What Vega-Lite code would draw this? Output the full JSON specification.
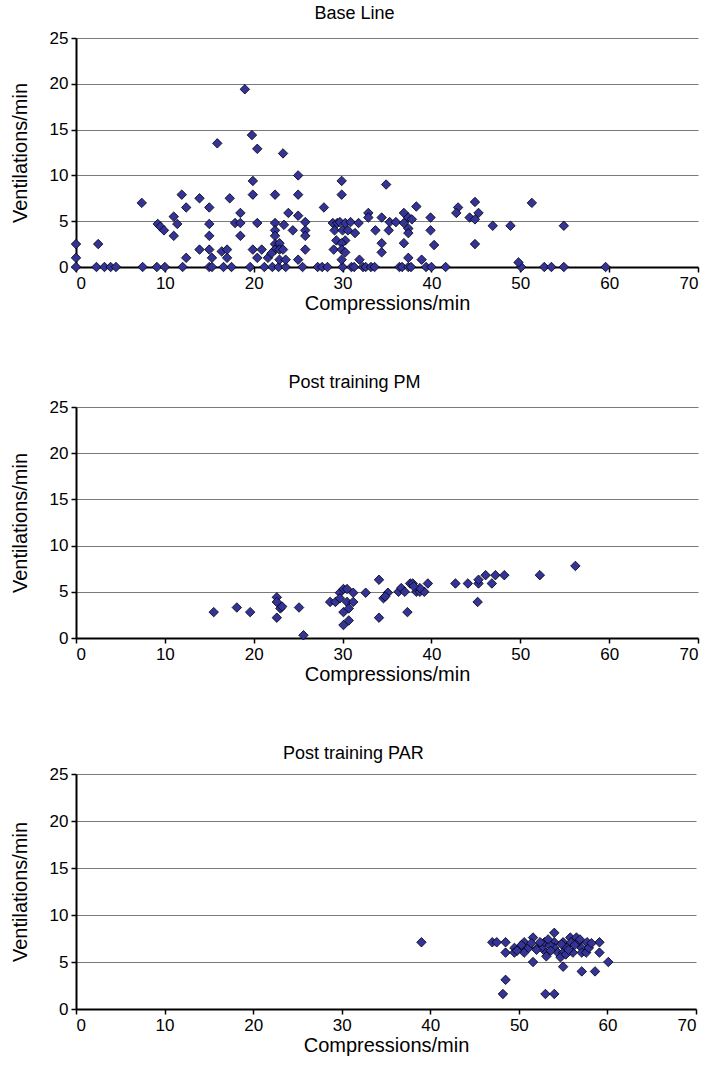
{
  "$schema": "https://vega.github.io/schema/vega-lite/v6.json",
  "background": "white",
  "padding": {"left": 10, "top": 5, "right": 5, "bottom": 4},
  "spacing": 61,
  "config": {
    "font": "Liberation Sans",
    "view": {"stroke": null},
    "title": {"fontSize": 18, "fontWeight": "normal", "color": "#000", "font": "Liberation Sans", "offset": 6, "frame": "bounds", "anchor": "middle"},
    "axis": {"labelFont": "Liberation Sans", "titleFont": "Liberation Sans", "labelFontSize": 17, "titleFontSize": 20, "titleFontWeight": "normal", "labelColor": "#000", "titleColor": "#000", "domainColor": "#000", "domainWidth": 2, "tickColor": "#000", "tickWidth": 1.5, "tickSize": 5, "gridColor": "#7a7a7a", "gridWidth": 1, "gridOpacity": 1}
  },
  "datasets": {
    "base": [
      {"x":0,"y":0},{"x":2.3,"y":0},{"x":3.2,"y":0},{"x":3.9,"y":0},{"x":4.5,"y":0},{"x":7.5,"y":0},{"x":9.1,"y":0},{"x":10.0,"y":0},{"x":12.0,"y":0},{"x":15.0,"y":0},{"x":15.3,"y":0},{"x":16.6,"y":0},{"x":17.5,"y":0},{"x":19.6,"y":0},{"x":21.2,"y":0},{"x":22.1,"y":0},{"x":22.8,"y":0},{"x":23.6,"y":0},{"x":25.5,"y":0},{"x":27.2,"y":0},{"x":27.7,"y":0},{"x":28.3,"y":0},{"x":30.0,"y":0},{"x":31.0,"y":0},{"x":31.3,"y":0},{"x":32.3,"y":0},{"x":32.6,"y":0},{"x":33.2,"y":0},{"x":33.6,"y":0},{"x":36.4,"y":0},{"x":36.7,"y":0},{"x":37.4,"y":0},{"x":37.7,"y":0},{"x":39.4,"y":0},{"x":40.0,"y":0},{"x":41.6,"y":0},{"x":50.1,"y":0},{"x":52.7,"y":0},{"x":53.5,"y":0},{"x":54.9,"y":0},{"x":59.6,"y":0},
      {"x":0,"y":2.5},{"x":0,"y":1.0},{"x":2.5,"y":2.5},{"x":7.4,"y":7.0},{"x":9.2,"y":4.7},{"x":9.5,"y":4.4},{"x":9.9,"y":4.0},{"x":11.0,"y":5.5},{"x":11.4,"y":4.7},{"x":11.0,"y":3.4},{"x":11.9,"y":7.9},{"x":12.4,"y":6.5},{"x":12.4,"y":1.0},{"x":13.9,"y":7.5},{"x":13.9,"y":1.9},{"x":15.0,"y":6.5},{"x":15.0,"y":4.7},{"x":15.0,"y":3.4},{"x":15.0,"y":1.9},{"x":15.3,"y":1.0},{"x":15.9,"y":13.5},{"x":16.4,"y":1.7},{"x":17.0,"y":1.9},{"x":17.0,"y":1.0},{"x":17.3,"y":7.5},{"x":17.9,"y":4.8},{"x":18.5,"y":5.9},{"x":18.5,"y":4.8},{"x":18.5,"y":3.4},{"x":19.0,"y":19.4},{"x":19.8,"y":14.4},{"x":20.4,"y":12.9},{"x":19.9,"y":9.4},{"x":19.9,"y":7.9},{"x":20.4,"y":4.8},{"x":19.9,"y":1.9},{"x":20.4,"y":1.0},{"x":20.9,"y":1.9},{"x":21.6,"y":1.0},{"x":22.4,"y":7.9},{"x":22.4,"y":4.8},{"x":22.4,"y":4.0},{"x":22.4,"y":3.4},{"x":22.4,"y":2.5},{"x":22.4,"y":1.9},{"x":22.0,"y":1.5},{"x":23.3,"y":12.4},{"x":25.0,"y":10.0},{"x":25.0,"y":7.9},{"x":29.9,"y":9.4},{"x":29.9,"y":7.9},{"x":34.9,"y":9.0},{"x":27.9,"y":6.5},{"x":23.9,"y":5.9},{"x":25.0,"y":5.6},{"x":25.8,"y":4.9},{"x":23.4,"y":4.6},{"x":24.4,"y":4.0},{"x":25.8,"y":4.0},{"x":25.8,"y":3.4},{"x":25.8,"y":1.9},{"x":22.9,"y":2.6},{"x":22.9,"y":1.9},{"x":23.3,"y":1.9},{"x":22.9,"y":0.8},{"x":23.6,"y":0.8},{"x":25.0,"y":0.8},{"x":28.9,"y":4.8},{"x":29.4,"y":4.8},{"x":29.7,"y":4.9},{"x":30.3,"y":4.8},{"x":30.9,"y":4.9},{"x":31.8,"y":4.8},{"x":29.1,"y":4.0},{"x":30.0,"y":4.0},{"x":30.6,"y":4.0},{"x":31.4,"y":3.7},{"x":29.3,"y":2.9},{"x":30.3,"y":2.9},{"x":29.9,"y":2.6},{"x":29.0,"y":1.9},{"x":29.9,"y":1.9},{"x":30.3,"y":1.6},{"x":29.9,"y":0.8},{"x":31.9,"y":0.8},{"x":32.9,"y":5.9},{"x":32.9,"y":5.4},{"x":34.4,"y":5.4},{"x":33.7,"y":4.0},{"x":34.4,"y":2.6},{"x":34.4,"y":1.6},{"x":35.2,"y":4.0},{"x":35.3,"y":4.9},{"x":36.0,"y":4.9},{"x":36.9,"y":5.9},{"x":37.4,"y":5.4},{"x":37.8,"y":5.2},{"x":36.9,"y":4.8},{"x":37.4,"y":4.2},{"x":37.4,"y":3.7},{"x":36.9,"y":2.6},{"x":37.4,"y":1.0},{"x":38.3,"y":6.6},{"x":39.9,"y":5.4},{"x":39.9,"y":4.0},{"x":40.3,"y":2.4},{"x":38.9,"y":0.8},{"x":43.0,"y":6.5},{"x":42.8,"y":5.9},{"x":44.9,"y":7.1},{"x":45.3,"y":5.9},{"x":44.3,"y":5.4},{"x":44.9,"y":5.2},{"x":44.9,"y":2.5},{"x":46.9,"y":4.5},{"x":48.9,"y":4.5},{"x":51.3,"y":7.0},{"x":54.9,"y":4.5},{"x":49.8,"y":0.5}
    ],
    "pm": [
      {"x":15.5,"y":2.8},{"x":18.1,"y":3.3},{"x":19.6,"y":2.8},{"x":22.6,"y":4.4},{"x":22.6,"y":3.9},{"x":23.0,"y":3.2},{"x":22.6,"y":2.2},{"x":23.2,"y":3.4},{"x":25.1,"y":3.3},{"x":25.6,"y":0.3},{"x":28.6,"y":3.9},{"x":29.2,"y":3.9},{"x":29.7,"y":4.9},{"x":30.1,"y":5.3},{"x":30.5,"y":5.3},{"x":31.2,"y":4.9},{"x":29.7,"y":4.3},{"x":30.5,"y":3.9},{"x":31.2,"y":3.9},{"x":30.1,"y":2.8},{"x":30.7,"y":3.2},{"x":30.1,"y":1.4},{"x":30.7,"y":1.9},{"x":32.6,"y":4.9},{"x":34.1,"y":6.3},{"x":34.6,"y":4.3},{"x":34.1,"y":2.2},{"x":35.1,"y":4.9},{"x":34.8,"y":4.5},{"x":36.3,"y":5.0},{"x":36.6,"y":5.4},{"x":37.0,"y":5.0},{"x":37.6,"y":5.9},{"x":37.9,"y":5.9},{"x":38.3,"y":5.0},{"x":38.7,"y":5.0},{"x":39.2,"y":5.0},{"x":38.7,"y":5.4},{"x":38.0,"y":5.6},{"x":39.6,"y":5.9},{"x":37.3,"y":2.8},{"x":42.7,"y":5.9},{"x":44.1,"y":5.9},{"x":45.3,"y":5.9},{"x":45.3,"y":6.3},{"x":45.2,"y":3.9},{"x":46.1,"y":6.8},{"x":46.8,"y":5.9},{"x":47.2,"y":6.8},{"x":48.2,"y":6.8},{"x":52.2,"y":6.8},{"x":56.2,"y":7.8}
    ],
    "par": [
      {"x":39.0,"y":7.1},{"x":47.0,"y":7.1},{"x":47.5,"y":7.1},{"x":48.5,"y":7.1},{"x":48.5,"y":6.0},{"x":48.2,"y":1.6},{"x":48.5,"y":3.1},{"x":49.5,"y":6.5},{"x":49.5,"y":6.0},{"x":50.1,"y":6.5},{"x":50.6,"y":7.1},{"x":50.6,"y":6.0},{"x":51.1,"y":6.5},{"x":51.6,"y":7.6},{"x":51.6,"y":5.0},{"x":52.1,"y":6.5},{"x":52.6,"y":6.5},{"x":52.9,"y":7.1},{"x":53.1,"y":6.0},{"x":53.1,"y":5.6},{"x":53.0,"y":1.6},{"x":54.0,"y":8.1},{"x":54.0,"y":7.1},{"x":54.0,"y":6.5},{"x":54.4,"y":6.0},{"x":54.0,"y":1.6},{"x":55.0,"y":4.5},{"x":55.0,"y":6.0},{"x":55.0,"y":7.1},{"x":55.4,"y":6.5},{"x":55.8,"y":7.6},{"x":55.9,"y":7.1},{"x":56.1,"y":6.0},{"x":56.5,"y":7.6},{"x":56.7,"y":7.1},{"x":57.1,"y":6.5},{"x":57.1,"y":6.0},{"x":57.7,"y":7.1},{"x":57.6,"y":6.0},{"x":57.9,"y":6.5},{"x":57.1,"y":4.0},{"x":58.6,"y":4.0},{"x":59.1,"y":7.1},{"x":59.1,"y":6.0},{"x":60.1,"y":5.0},{"x":52.4,"y":7.1},{"x":53.5,"y":6.8},{"x":54.7,"y":5.5},{"x":55.3,"y":5.8},{"x":56.3,"y":6.8},{"x":53.6,"y":6.2},{"x":52.0,"y":6.3},{"x":50.3,"y":6.8},{"x":49.8,"y":6.2},{"x":54.8,"y":6.9},{"x":56.9,"y":7.4},{"x":58.2,"y":7.0},{"x":53.3,"y":7.4},{"x":55.6,"y":6.3},{"x":51.4,"y":7.0}
    ]
  },
  "vconcat": [
    {
      "title": "Base Line",
      "data": {"name": "base"},
      "width": 622, "height": 229,
      "mark": {"type": "point", "shape": "diamond", "filled": true, "size": 90, "fill": "#333399", "stroke": "#000", "strokeWidth": 0.8, "opacity": 1},
      "encoding": {
        "x": {"field": "x", "type": "quantitative", "scale": {"domain": [0, 70], "nice": false}, "axis": {"title": "Compressions/min", "values": [0,10,20,30,40,50,60,70], "grid": false, "labelPadding": 3, "titlePadding": 2}},
        "y": {"field": "y", "type": "quantitative", "scale": {"domain": [0, 25], "nice": false}, "axis": {"title": "Ventilations/min", "values": [0,5,10,15,20,25], "grid": true, "labelPadding": 3, "titlePadding": 19}}
      }
    },
    {
      "title": "Post training PM",
      "data": {"name": "pm"},
      "width": 622, "height": 231,
      "mark": {"type": "point", "shape": "diamond", "filled": true, "size": 90, "fill": "#333399", "stroke": "#000", "strokeWidth": 0.8, "opacity": 1},
      "encoding": {
        "x": {"field": "x", "type": "quantitative", "scale": {"domain": [0, 70], "nice": false}, "axis": {"title": "Compressions/min", "values": [0,10,20,30,40,50,60,70], "grid": false, "labelPadding": 3, "titlePadding": 2}},
        "y": {"field": "y", "type": "quantitative", "scale": {"domain": [0, 25], "nice": false}, "axis": {"title": "Ventilations/min", "values": [0,5,10,15,20,25], "grid": true, "labelPadding": 3, "titlePadding": 19}}
      }
    },
    {
      "title": {"text": "Post training PAR", "offset": 2},
      "data": {"name": "par"},
      "width": 620, "height": 235,
      "mark": {"type": "point", "shape": "diamond", "filled": true, "size": 90, "fill": "#333399", "stroke": "#000", "strokeWidth": 0.8, "opacity": 1},
      "encoding": {
        "x": {"field": "x", "type": "quantitative", "scale": {"domain": [0, 70], "nice": false}, "axis": {"title": "Compressions/min", "values": [0,10,20,30,40,50,60,70], "grid": false, "labelPadding": 3, "titlePadding": 2}},
        "y": {"field": "y", "type": "quantitative", "scale": {"domain": [0, 25], "nice": false}, "axis": {"title": "Ventilations/min", "values": [0,5,10,15,20,25], "grid": true, "labelPadding": 3, "titlePadding": 19}}
      }
    }
  ]
}
